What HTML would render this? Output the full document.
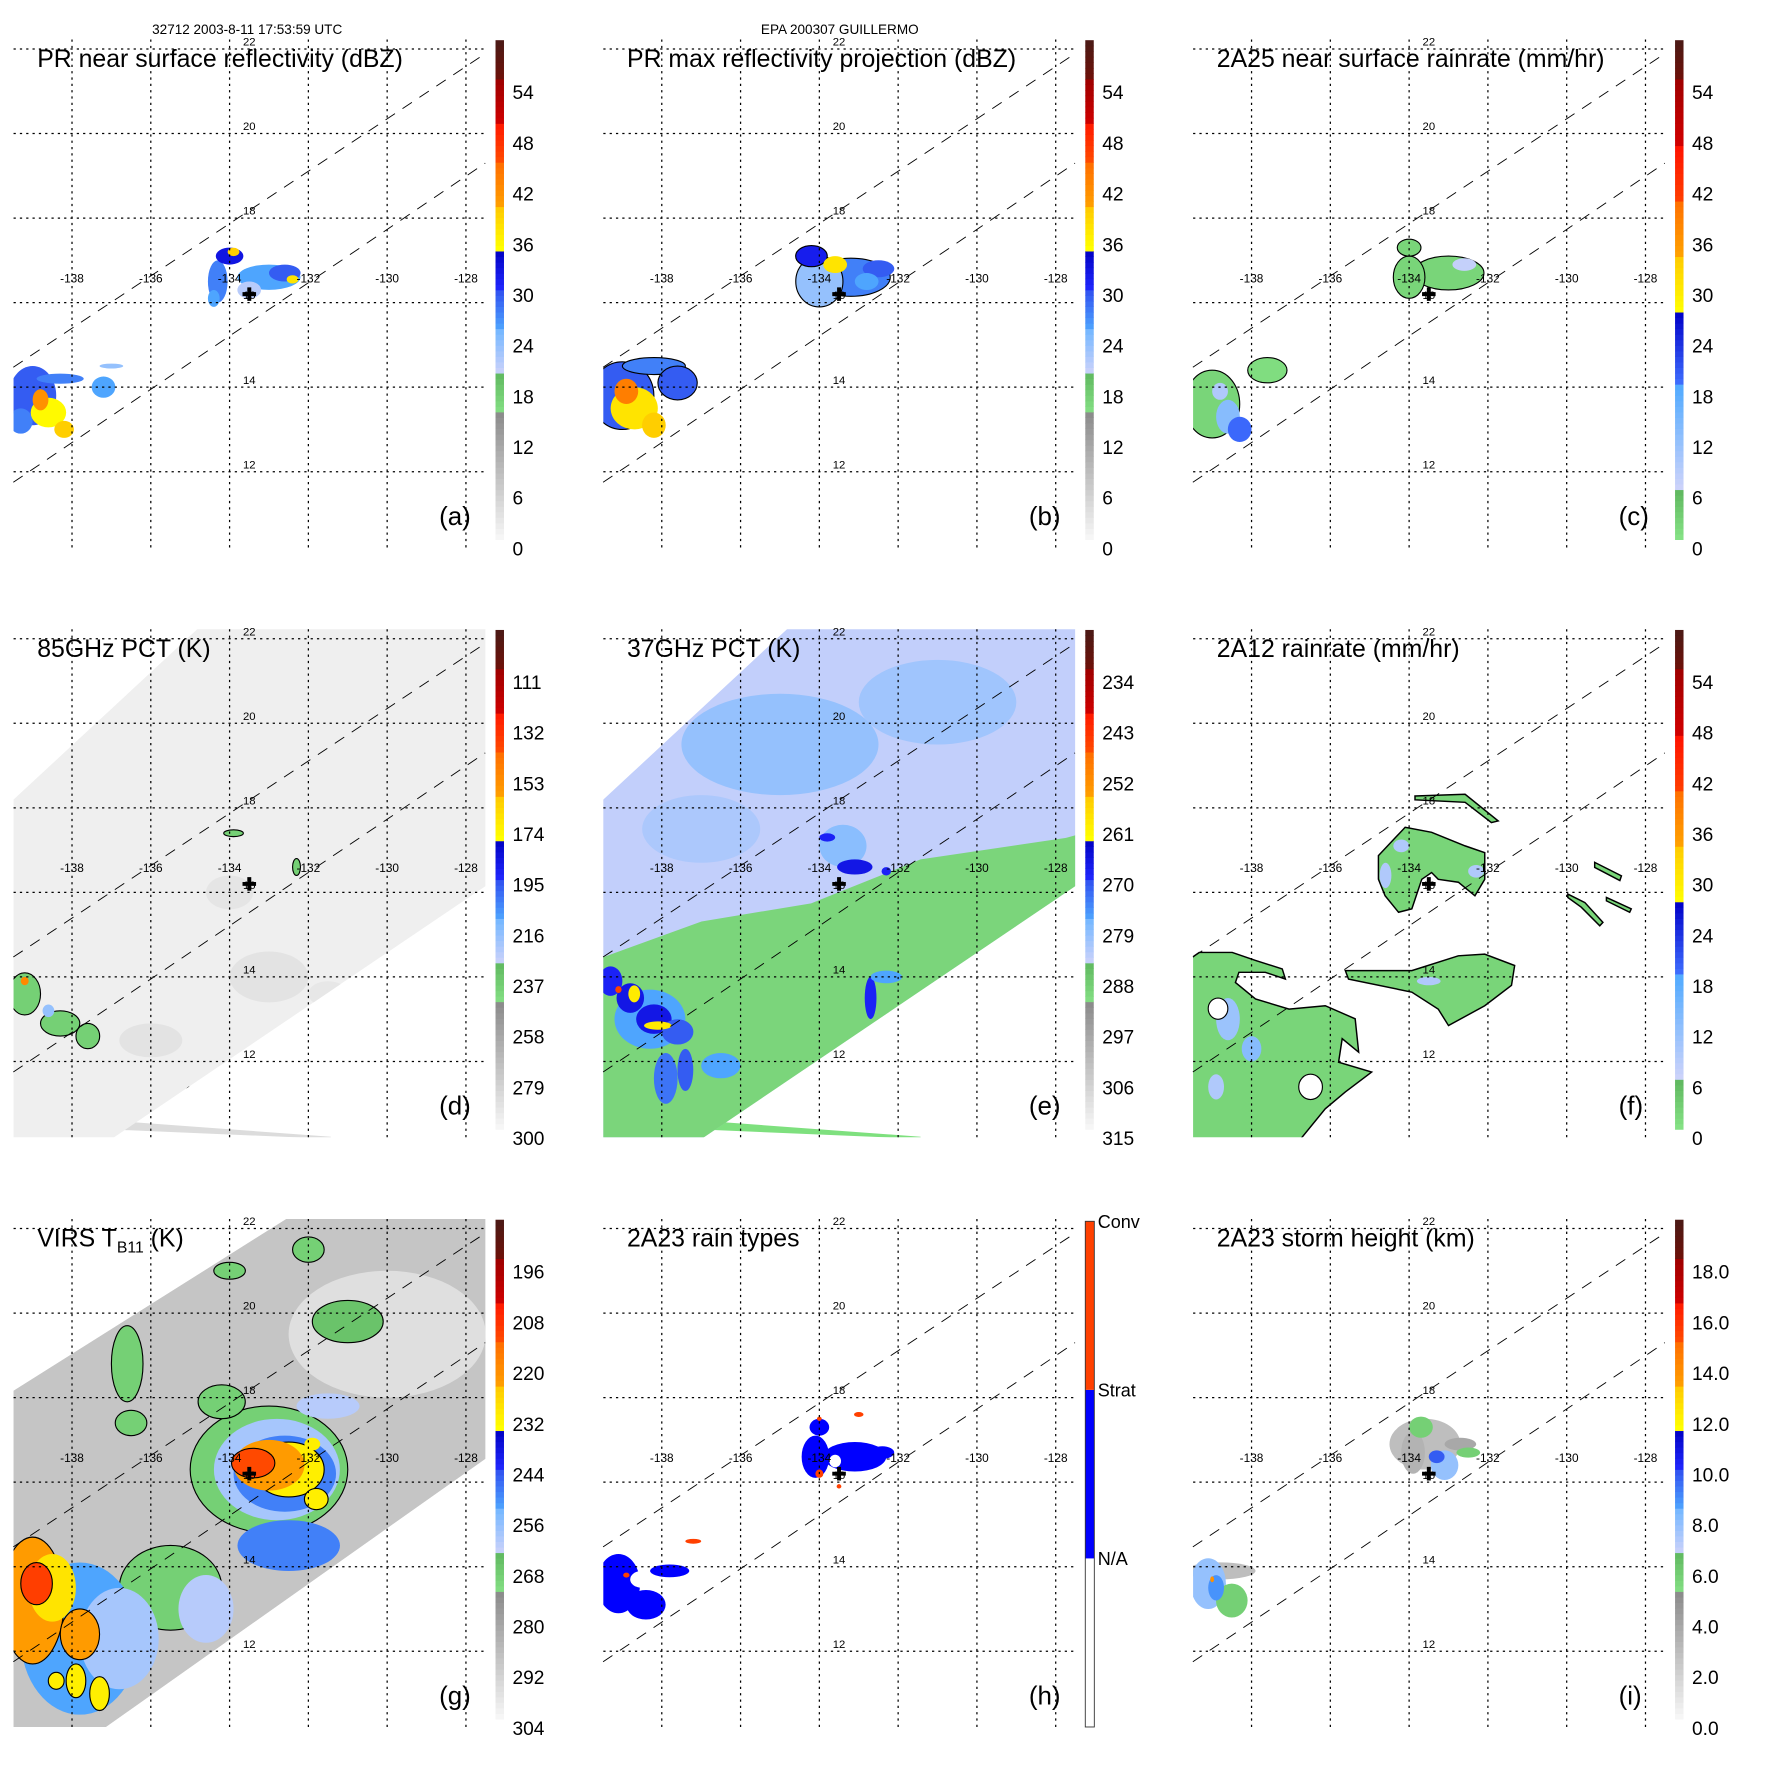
<!DOCTYPE html>
<html><head><meta charset="utf-8">
<style>
html,body{margin:0;padding:0;background:#fff}
svg{display:block}
text{font-family:"Liberation Sans",sans-serif;fill:#000}
</style></head>
<body>
<svg id="fig" xmlns="http://www.w3.org/2000/svg" width="1771" height="1771" viewBox="0 0 1569 1569">
<text x="219" y="30" font-size="12" text-anchor="middle">32712 2003-8-11 17:53:59 UTC</text>
<text x="744" y="30" font-size="12" text-anchor="middle">EPA 200307 GUILLERMO</text>
</svg>
<script>
const NS='http://www.w3.org/2000/svg';
const PERIOD=522.5;
function X(lon){return 63.8+(lon+138)*34.9;}
function Y(lat){return 43.4+(22-lat)*37.45;}

const lonTicks=[-138,-136,-134,-132,-130,-128];
const latTicks=[22,20,18,16,14,12];
const swathEdge1=[[-139.49,14.47],[-127.51,21.89]];
const swathEdge2=[[-139.49,11.75],[-127.51,19.3]];
const centerMark=[-133.5,16.2];

const CM_A=[[0,.25,'#f8f8f8','#8c8c8c'],[.25,.333,'#86e286','#60b860'],[.333,.417,'#ccd2fa','#78b8ff'],[.417,.5,'#50aaff','#3050f0'],[.5,.583,'#2028ff','#0000c0'],[.583,.667,'#ffff00','#ffc800'],[.667,.75,'#ffa000','#ff7000'],[.75,.833,'#ff5000','#ff1800'],[.833,.917,'#d00000','#a00000'],[.917,1,'#701008','#4a1a16']];
const CM_C=[[0,.097,'#86e486','#60b860'],[.097,.31,'#d0d4fa','#50aaff'],[.31,.455,'#4070ff','#0000c8'],[.455,.572,'#ffff00','#ffc800'],[.572,.676,'#ffa000','#ff7000'],[.676,.793,'#ff4000','#ff1000'],[.793,.917,'#d00000','#a00000'],[.917,1,'#701008','#4a1a16']];
const CM_H=[[0,.333,'#ffffff','#ffffff'],[.333,.667,'#0000ff','#0000ff'],[.667,1,'#ff4000','#ff4000']];

// tick label values (bottom -> top)
const ticksA=[0,6,12,18,24,30,36,42,48,54];
const ticksD=[300,279,258,237,216,195,174,153,132,111];
const ticksE=[315,306,297,288,279,270,261,252,243,234];
const ticksG=[304,292,280,268,256,244,232,220,208,196];
const ticksI=[0,2,4,6,8,10,12,14,16,18];
const ticksH=['N/A','Strat','Conv'];

// swaths [lon,lat]
const swathDE=[[-139.6,18.1],[-134.74,22.3],[-127.4,22.3],[-127.4,16.21],[-137.1,10.1],[-139.6,10.1]];
const swathG=[[-139.6,18.1],[-132.44,22.3],[-127.4,22.3],[-127.4,16.62],[-137.3,10.1],[-139.6,10.1]];
const stripeDE=[[-136.99,10.6],[-131.43,10.22],[-131.43,10.17],[-136.99,10.39]];

// blobs: [lon,lat,rxDeg,ryDeg,value,stroke]
const blobsA=[[-133.0,16.6,0.8,0.3,26],[-132.6,16.7,0.4,0.2,30],[-134.3,16.5,0.25,0.5,28],[-134.0,17.1,0.35,0.2,33],[-133.9,17.2,0.15,0.1,40],[-134.4,16.1,0.15,0.2,26],[-132.4,16.55,0.15,0.1,38],[-133.5,16.3,0.3,0.2,22],
[-139.0,13.8,0.6,0.7,30],[-138.3,14.2,0.6,0.12,28],[-137.2,14.0,0.3,0.25,26],[-139.3,13.2,0.3,0.3,28],[-137.0,14.5,0.3,0.06,24],[-138.6,13.4,0.45,0.35,36],[-138.8,13.7,0.2,0.25,42],[-138.2,13.0,0.25,0.2,40]];
const blobsB=[[-133.2,16.6,1.0,0.45,28,1],[-134.0,16.5,0.6,0.6,24,1],[-134.2,17.1,0.4,0.25,32,1],[-132.5,16.8,0.4,0.2,30],[-133.6,16.9,0.3,0.2,38],[-132.8,16.5,0.3,0.2,26],
[-139.0,13.8,0.8,0.8,30,1],[-138.2,14.5,0.8,0.2,28,1],[-137.6,14.1,0.5,0.4,30,1],[-138.7,13.5,0.6,0.5,38],[-138.9,13.9,0.3,0.3,44],[-138.2,13.1,0.3,0.3,40]];
const blobsC=[[-133.0,16.7,0.9,0.4,3,1],[-134.0,16.6,0.4,0.5,3,1],[-134.0,17.3,0.3,0.2,3,1],[-132.6,16.9,0.3,0.15,8],
[-139.0,13.6,0.7,0.8,3,1],[-137.6,14.4,0.5,0.3,2,1],[-138.6,13.3,0.3,0.4,14],[-138.3,13.0,0.3,0.3,20],[-138.8,13.9,0.2,0.2,10]];
const blobsD=[[-133.0,14.0,1.0,0.6,286],[-134.0,16.0,0.6,0.4,287],[-136.0,12.5,0.8,0.4,286],[-131.5,13.6,0.5,0.3,288],
[-139.2,13.6,0.4,0.5,237,1],[-138.3,12.9,0.5,0.3,237,1],[-137.6,12.6,0.3,0.3,237,1],[-138.6,13.2,0.15,0.15,216],[-139.2,13.9,0.1,0.1,150],
[-133.9,17.4,0.25,0.08,237,1],[-132.3,16.6,0.1,0.2,237,1],[-135.0,11.3,0.1,0.1,237,1]];
const blobsE=[[-135,19.5,2.5,1.2,279],[-131,20.5,2,1,280],[-137,17.5,1.5,0.8,281],[-133.4,17.1,0.6,0.5,278]];
const blobsE2=[[-138.3,13.0,0.9,0.7,276],[-139.3,13.9,0.3,0.35,268],[-138.8,13.5,0.35,0.35,266],[-138.2,13.0,0.45,0.35,266],[-137.6,12.7,0.4,0.3,270],[-138.7,13.6,0.15,0.2,259],[-138.1,12.85,0.35,0.1,259],[-139.1,13.7,0.08,0.08,245],
[-137.9,11.6,0.3,0.6,272],[-137.4,11.8,0.2,0.5,270],[-136.5,11.9,0.5,0.3,276],[-132.7,13.5,0.15,0.5,268],[-132.3,14.0,0.4,0.15,276],
[-133.1,16.6,0.45,0.18,266],[-133.8,17.3,0.2,0.1,268],[-132.3,16.5,0.12,0.1,268]];
const blobsG=[[-130,19.5,2.5,1.5,295],[-136.6,18.8,0.4,0.9,268,1],[-136.5,17.4,0.4,0.3,268,1],[-131.0,19.8,0.9,0.5,265,1],[-132.0,21.5,0.4,0.3,268,1],[-134.0,21.0,0.4,0.2,268,1],
[-133.0,16.3,2.0,1.5,268,1],[-134.2,17.9,0.6,0.4,268,1],[-131.5,17.8,0.8,0.3,260],[-132.8,16.3,1.6,1.2,258],[-132.6,16.2,1.3,0.9,248],
[-135.5,13.5,1.3,1.0,268,1],[-137.8,12.3,1.5,1.8,252],[-136.8,12.3,1.0,1.2,258],[-134.6,13.0,0.7,0.8,260],[-132.5,14.5,1.3,0.6,248],
[-132.5,16.3,0.9,0.65,230,1],[-133.0,16.4,0.9,0.6,222],[-133.4,16.45,0.55,0.35,212,1],[-131.9,16.9,0.2,0.15,230],[-131.8,15.6,0.3,0.25,230,1],
[-139.0,13.2,0.8,1.5,222,1],[-138.5,13.5,0.6,0.8,228],[-138.9,13.6,0.4,0.5,210,1],[-137.8,12.4,0.5,0.6,222,1],[-137.9,11.3,0.25,0.4,230,1],[-137.3,11.0,0.25,0.4,230,1],[-138.4,11.3,0.2,0.2,230,1]];
const blobsH=[[-133.1,16.6,0.8,0.35,2],[-134.1,16.6,0.35,0.5,2],[-134.0,17.3,0.25,0.2,2],[-132.4,16.7,0.3,0.15,2],[-133.6,16.5,0.15,0.15,0],
[-134.0,17.5,0.06,0.05,3],[-133.0,17.6,0.12,0.06,3],[-134.0,16.2,0.1,0.1,3],[-133.5,15.9,0.06,0.05,3],
[-139.1,13.6,0.55,0.7,2],[-138.4,13.1,0.5,0.35,2],[-137.8,13.9,0.5,0.15,2],[-138.5,13.7,0.3,0.2,0],[-138.9,13.8,0.08,0.06,3],[-137.2,14.6,0.2,0.06,3]];
const blobsI=[[-133.6,16.9,0.9,0.6,3],[-133.9,16.7,0.3,0.5,3.5],[-133.7,17.3,0.3,0.25,6],[-132.7,16.9,0.4,0.15,4],[-132.5,16.7,0.3,0.12,6],[-133.1,16.4,0.35,0.35,8],[-133.3,16.6,0.2,0.15,10],
[-138.8,13.9,0.9,0.2,3],[-139.1,13.6,0.45,0.6,8],[-138.5,13.2,0.4,0.4,6],[-138.9,13.5,0.2,0.3,9],[-139.0,13.7,0.05,0.07,14]];
const blobsF=[[-138.6,13.0,0.3,0.5,12],[-138.0,12.3,0.25,0.3,14],[-138.9,11.4,0.2,0.3,10],[-133.5,13.9,0.3,0.1,10],[-134.2,17.1,0.2,0.15,10],[-134.6,16.4,0.15,0.3,10],[-132.3,16.5,0.2,0.15,10],
[-138.85,13.25,0.25,0.25,-1],[-136.5,11.4,0.3,0.3,-1]];

// regions: polygons [lon,lat]
const polyE=[[-139.83,14.35],[-136.99,15.31],[-134.21,15.74],[-131.43,16.78],[-127.74,17.29],[-127.22,17.42],[-127.22,9.81],[-139.83,9.81]];
const polyFbl=[[-139.33,14.58],[-138.49,14.58],[-137.9,14.39],[-137.22,14.19],[-137.14,13.95],[-137.65,14.11],[-138.32,14.11],[-138.41,13.87],[-137.9,13.48],[-137.05,13.24],[-136.13,13.32],[-135.37,13.01],[-135.28,12.22],[-135.7,12.54],[-135.79,11.98],[-134.95,11.75],[-135.62,11.28],[-136.13,10.88],[-136.9,10.0],[-139.6,10.0],[-139.6,14.4]];
const polyFmid=[[-135.62,14.15],[-133.93,14.15],[-132.75,14.5],[-132.08,14.54],[-131.32,14.27],[-131.4,13.8],[-132.08,13.32],[-133.0,12.85],[-133.26,13.24],[-133.93,13.64],[-135.54,13.95]];
const polyFc=[[-134.78,16.87],[-134.1,17.54],[-133.43,17.42],[-132.58,17.1],[-132.08,16.94],[-132.08,16.31],[-132.33,15.92],[-132.75,16.24],[-133.26,16.31],[-133.43,16.47],[-133.68,16.31],[-133.93,15.61],[-134.27,15.53],[-134.61,15.92],[-134.78,16.31]];
const polyFtop=[[-133.85,18.28],[-132.58,18.32],[-131.74,17.69],[-131.91,17.65],[-132.58,18.13],[-133.85,18.19]];
const polyFr1=[[-129.29,16.71],[-128.61,16.39],[-128.65,16.28],[-129.29,16.59]];
const polyFr2=[[-129.97,15.96],[-129.54,15.76],[-129.08,15.29],[-129.16,15.21],[-129.63,15.65],[-129.97,15.88]];
const polyFr3=[[-128.99,15.88],[-128.36,15.61],[-128.4,15.53],[-128.99,15.8]];

const panels=[
 {id:'a',c:0,r:0,title:'PR near surface reflectivity (dBZ)',cm:CM_A,ticks:ticksA,blobs:blobsA},
 {id:'b',c:1,r:0,title:'PR max reflectivity projection (dBZ)',cm:CM_A,ticks:ticksA,blobs:blobsB},
 {id:'c',c:2,r:0,title:'2A25 near surface rainrate (mm/hr)',cm:CM_C,ticks:ticksA,blobs:blobsC},
 {id:'d',c:0,r:1,title:'85GHz PCT (K)',cm:CM_A,ticks:ticksD,swath:swathDE,base:292,stripe:'#dcdcdc',blobs:blobsD},
 {id:'e',c:1,r:1,title:'37GHz PCT (K)',cm:CM_A,ticks:ticksE,swath:swathDE,base:283,stripe:'#7ee07e',blobs:blobsE,polys:[[polyE,289,0]],blobs2:blobsE2},
 {id:'f',c:2,r:1,title:'2A12 rainrate (mm/hr)',cm:CM_C,ticks:ticksA,blobs:[],polys:[[polyFbl,3,1],[polyFmid,3,1],[polyFc,3,1],[polyFtop,3,1],[polyFr1,3,1],[polyFr2,3,1],[polyFr3,3,1]],blobs2:blobsF},
 {id:'g',c:0,r:2,title:'VIRS',cm:CM_A,ticks:ticksG,swath:swathG,base:288,blobs:blobsG},
 {id:'h',c:1,r:2,title:'2A23 rain types',cm:CM_H,ticks:null,blobs:blobsH},
 {id:'i',c:2,r:2,title:'2A23 storm height (km)',cm:CM_A,ticks:ticksI,blobs:blobsI,dec:true}
];

function h2r(h){return [parseInt(h.substr(1,2),16),parseInt(h.substr(3,2),16),parseInt(h.substr(5,2),16)];}
function colorAt(cm,f){
  f=Math.max(0,Math.min(0.9999,f));
  for(const s of cm){ if(f>=s[0]&&f<=s[1]){const t=(f-s[0])/(s[1]-s[0]);const a=h2r(s[2]),b=h2r(s[3]);
    return 'rgb('+a.map((v,i)=>Math.round(v+(b[i]-v)*t)).join(',')+')';}}
  return '#fff';
}
function fracOf(p,v){
  if(!p.ticks) return Math.max(0,(v-0.5)/3);
  const t=(v-p.ticks[0])/(p.ticks[9]-p.ticks[0])*9;
  const y=486-t*44.9;
  return (478-y)/442.4;
}
function el(tag,attrs,parent){const e=document.createElementNS(NS,tag);for(const k in attrs)e.setAttribute(k,attrs[k]);parent.appendChild(e);return e;}
function pts(arr){return arr.map(p=>X(p[0]).toFixed(1)+','+Y(p[1]).toFixed(1)).join(' ');}

const svg=document.getElementById('fig');
const defs=el('defs',{},svg);

panels.forEach(p=>{
  const ox=p.c*PERIOD, oy=p.r*PERIOD;
  const g=el('g',{transform:'translate('+ox+','+oy+')'},svg);
  
  

  const cp=el('clipPath',{id:'clip-'+p.id},defs);
  el('rect',{x:12,y:35,width:418,height:450},cp);
  const data=el('g',{'clip-path':'url(#clip-'+p.id+')'},g);
  
  

  let tgt=data;
  if(p.swath){
    const sc=el('clipPath',{id:'sclip-'+p.id},defs);
    el('polygon',{points:pts(p.swath)},sc);
    if(p.stripe){const st=el('polygon',{points:pts(stripeDE),fill:p.stripe},data);
      
      }
    tgt=el('g',{'clip-path':'url(#sclip-'+p.id+')'},data);
    const sw=el('polygon',{points:pts(p.swath),fill:colorAt(p.cm,fracOf(p,p.base))},tgt);
    
    
  }
  const drawBlobs=(list)=>list.forEach(b=>{
    const fill=b[4]<0?'#ffffff':colorAt(p.cm,fracOf(p,b[4]));
    const e=el('ellipse',{cx:X(b[0]).toFixed(1),cy:Y(b[1]).toFixed(1),rx:(b[2]*34.9).toFixed(1),ry:(b[3]*37.45).toFixed(1),fill:fill},tgt);
    if(b[5]||b[4]<0){e.setAttribute('stroke','#000');e.setAttribute('stroke-width','1');}
    
    
  });
  drawBlobs(p.blobs);
  (p.polys||[]).forEach(q=>{
    const e=el('polygon',{points:pts(q[0]),fill:colorAt(p.cm,fracOf(p,q[1]))},tgt);
    if(q[2]){e.setAttribute('stroke','#000');e.setAttribute('stroke-width','1.3');}
    
    
  });
  if(p.blobs2) drawBlobs(p.blobs2);

  const grid=el('g',{stroke:'#000','stroke-width':1.1,'stroke-dasharray':'2,3.6',fill:'none'},g);
  
  
  latTicks.forEach(l=>{const e=el('line',{x1:12,x2:430,y1:Y(l),y2:Y(l)},grid);
    
    });
  lonTicks.forEach(l=>{const e=el('line',{x1:X(l),x2:X(l),y1:35,y2:486},grid);
    
    });
  [swathEdge1,swathEdge2].forEach(s=>{
    const e=el('line',{x1:X(s[0][0]),y1:Y(s[0][1]),x2:X(s[1][0]),y2:Y(s[1][1]),stroke:'#000','stroke-width':0.8,'stroke-dasharray':'10,8'},g);
    
    
  });
  latTicks.forEach(l=>{const t=el('text',{x:X(-133.5),y:Y(l)-3,'font-size':10,'text-anchor':'middle'},g);t.textContent=String(l);
    
    });
  lonTicks.forEach(l=>{const t=el('text',{x:X(l),y:Y(16)-18,'font-size':10.5,'text-anchor':'middle'},g);t.textContent=String(l);
    
    });
  const cx=X(centerMark[0]),cy=Y(centerMark[1]);
  const cr=el('path',{d:'M'+(cx-6)+','+cy+'h12M'+cx+','+(cy-6)+'v12',stroke:'#000','stroke-width':3.5},g);
  
  

  const tt=el('text',{x:33,y:59.5,'font-size':22},g);
  
  
  if(p.id==='g'){
    tt.textContent='VIRS T';
    const s=el('tspan',{'font-size':14,dy:5},tt);s.textContent='B11';
    const s2=el('tspan',{dy:-5},tt);s2.textContent=' (K)';
  } else tt.textContent=p.title;
  const lt=el('text',{x:389,y:465,'font-size':23},g);lt.textContent='('+p.id+')';
  
  

  const cb=el('g',{},g);
  
  
  if(p.ticks){
    const y0=35.6,y1=478,N=90;
    for(let i=0;i<N;i++){
      const f=(i+0.5)/N;
      el('rect',{x:439,y:(y1-(i+1)*(y1-y0)/N).toFixed(2),width:7.5,height:((y1-y0)/N+0.4).toFixed(2),fill:colorAt(p.cm,f)},cb);
    }
    p.ticks.forEach((v,i)=>{
      const yc=486-i*44.9;
      const t=el('text',{x:454,y:yc+6,'font-size':17},cb);
      t.textContent=p.dec?v.toFixed(1):String(v);
      
      
    });
  } else {
    const y0=37,y1=485,hh=(y1-y0)/3;
    ['#ffffff','#0000ff','#ff4000'].forEach((c,i)=>el('rect',{x:439,y:y1-(i+1)*hh,width:8,height:hh,fill:c},cb));
    el('rect',{x:439,y:y0,width:8,height:y1-y0,fill:'none',stroke:'#333','stroke-width':0.8},cb);
    ticksH.forEach((s,i)=>{
      const t=el('text',{x:450,y:y1-(i+1)*hh+6,'font-size':16},cb);t.textContent=s;
      
      
    });
  }
});
</script>
</body></html>
